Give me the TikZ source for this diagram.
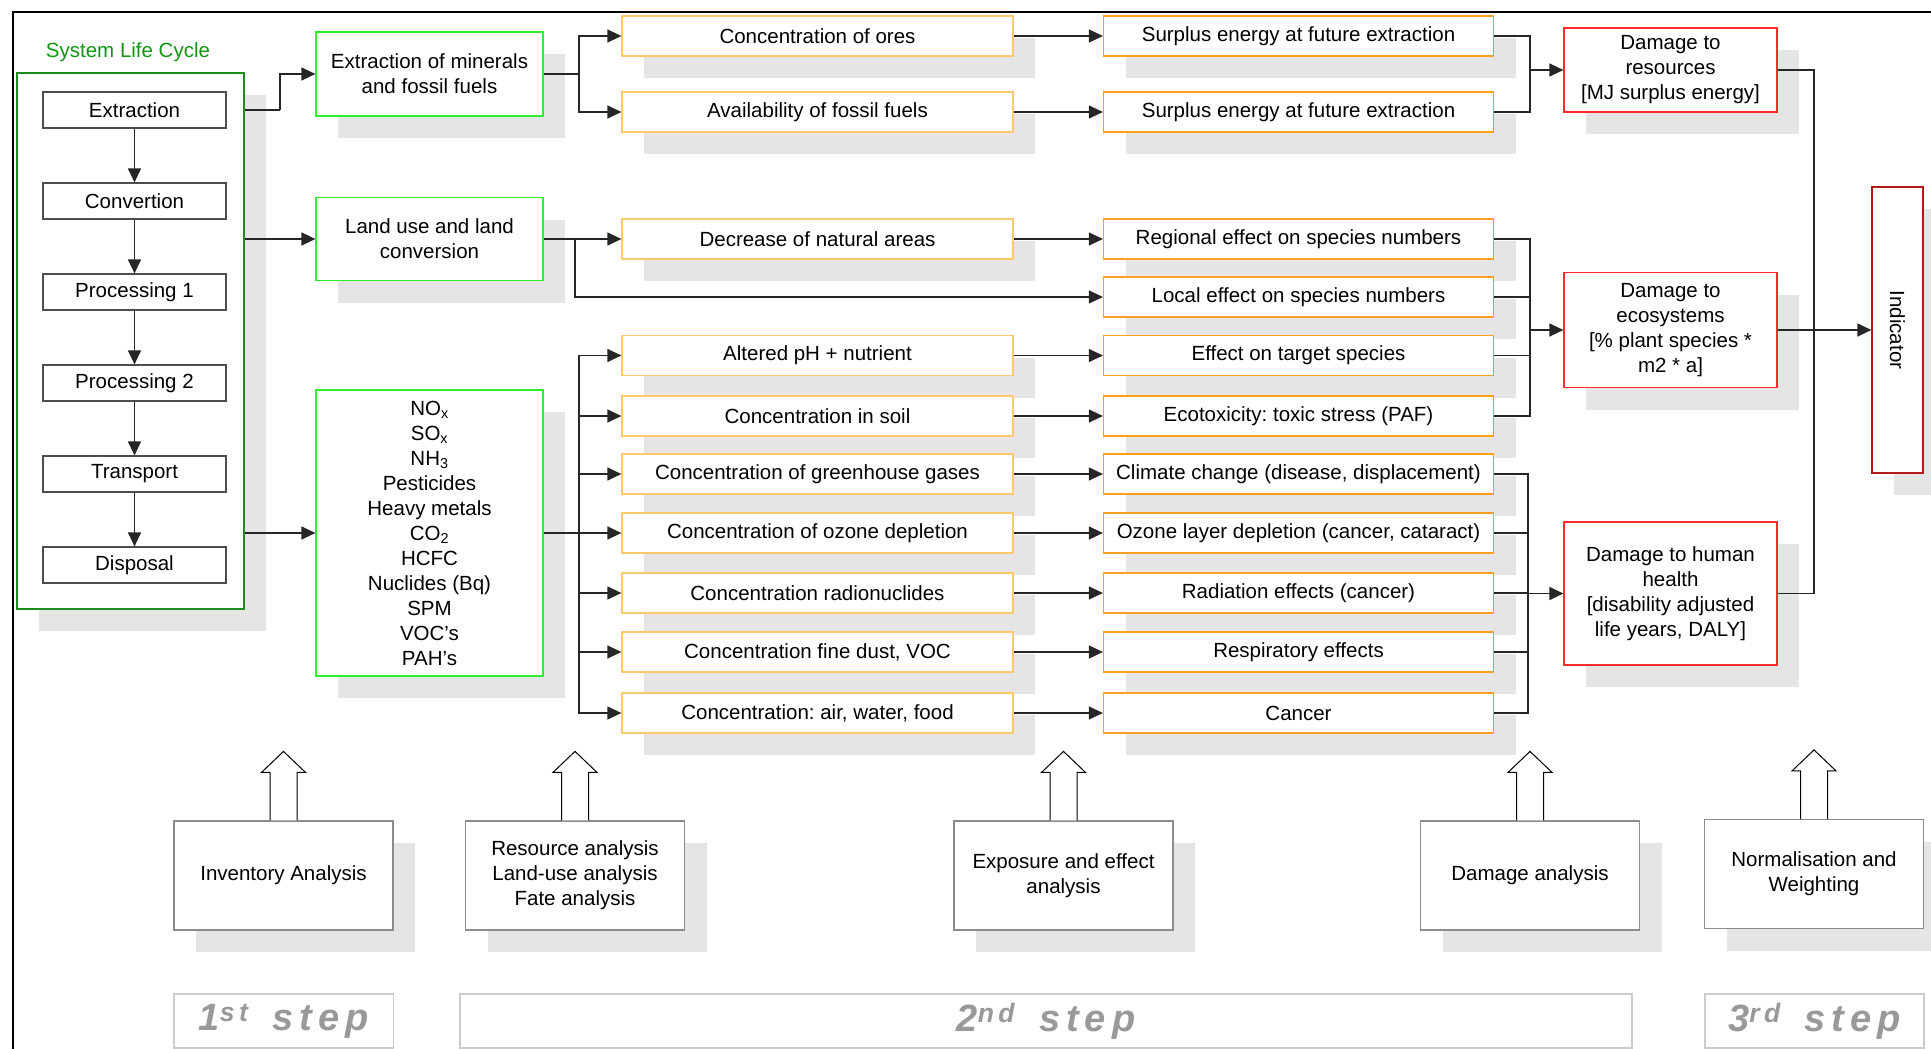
\documentclass[tikz,border=0pt]{standalone}
\usepackage{fontspec}
\setmainfont{Liberation Sans}
\frenchspacing
\usetikzlibrary{arrows.meta,shadows}
\definecolor{lcgreen}{HTML}{1E8C1E}
\definecolor{lctext}{HTML}{129612}
\definecolor{brightgreen}{HTML}{2EF02E}
\definecolor{orangelight}{HTML}{FFC870}
\definecolor{orangedark}{HTML}{FF9E1F}
\definecolor{dmgred}{HTML}{FF2B2B}
\definecolor{indred}{HTML}{B31A1A}
\definecolor{boxgray}{HTML}{8C8C8C}
\definecolor{lcgray}{HTML}{4D4D4D}
\definecolor{shadowgray}{HTML}{E5E5E5}
\definecolor{phasegray}{HTML}{CCCCCC}
\definecolor{phasetext}{HTML}{999999}

\begin{document}
\begin{tikzpicture}[x=1pt, y=-1pt, node distance=481pt,
    font=\fontsize{20.5}{25}\selectfont,
    box/.style={draw, rectangle, inner sep=0pt, line width=1.2pt, align=center, fill=white},
    shadowed/.style={drop shadow={shadow xshift=22pt, shadow yshift=-22pt, fill=shadowgray, opacity=1}},
    stepbox/.style={box, draw=lcgray, minimum width=183pt, minimum height=36pt, node distance=91pt},
    inbox/.style={box, shadowed, draw=brightgreen, minimum width=227pt},
    conc/.style={box, shadowed, draw=orangelight, minimum width=391pt, minimum height=40pt},
    effect/.style={box, shadowed, draw=orangedark, minimum width=390pt, minimum height=40pt},
    damage/.style={box, shadowed, draw=dmgred, minimum width=213pt},
    analysis/.style={box, shadowed, draw=boxgray, minimum width=219pt, minimum height=109pt},
    phase/.style={box, draw=phasegray, minimum height=54pt, text=phasetext,
        font=\fontsize{38}{40}\selectfont\bfseries\itshape},
    wire/.style={draw=black!85, line width=1.2pt},
    conn/.style={wire, -{Triangle[length=14pt,width=13pt]}},
    hollow/.style={draw=black, line width=1pt, fill=white}]
    \useasboundingbox (0,0) rectangle (1931,1049);
    \draw[line width=2.2pt] (13,1049) -- (13,12) -- (1931,12);

    \node (lcframe) [box, shadowed, draw=lcgreen, minimum width=227pt, minimum height=536pt] at (130.5,341) {};
    \node (lctitle) [text=lctext] at (128,52) {System Life Cycle};
    \node (extr) [stepbox] at (134.5,110) {Extraction};
    \node (conv) [stepbox, below of=extr] {Convertion};
    \node (proc1) [stepbox, below of=conv] {Processing 1};
    \node (proc2) [stepbox, below of=proc1] {Processing 2};
    \node (transp) [stepbox, below of=proc2] {Transport};
    \node (disp) [stepbox, below of=transp] {Disposal};

    \node (minerals) [inbox, minimum height=84pt] at (429.5,74) {Extraction of minerals\\and fossil fuels};
    \node (landuse) [inbox, minimum height=83pt] at (429.5,239) {Land use and land\\conversion};
    \node (emis) [inbox, minimum height=286pt] at (429.5,533) {NO\textsubscript{x}\\SO\textsubscript{x}\\NH\textsubscript{3}\\Pesticides\\Heavy metals\\CO\textsubscript{2}\\HCFC\\Nuclides (Bq)\\SPM\\VOC’s\\PAH’s};

    \node (ores) [conc] at (817.5,36) {Concentration of ores};
    \node (surp1) [effect, right of=ores] {Surplus energy at future extraction};
    \node (avail) [conc] at (817.5,112) {Availability of fossil fuels};
    \node (surp2) [effect, right of=avail] {Surplus energy at future extraction};
    \node (natural) [conc] at (817.5,239) {Decrease of natural areas};
    \node (regional) [effect, right of=natural] {Regional effect on species numbers};
    \node (localeff) [effect] at (1298.5,297) {Local effect on species numbers};
    \node (ph) [conc] at (817.5,355.5) {Altered pH + nutrient};
    \node (target) [effect, right of=ph] {Effect on target species};
    \node (soil) [conc] at (817.5,416) {Concentration in soil};
    \node (ecotox) [effect, right of=soil] {Ecotoxicity: toxic stress (PAF)};
    \node (ghg) [conc] at (817.5,474) {Concentration of greenhouse gases};
    \node (climate) [effect, right of=ghg] {Climate change (disease, displacement)};
    \node (ozone) [conc] at (817.5,533) {Concentration of ozone depletion};
    \node (ozlayer) [effect, right of=ozone] {Ozone layer depletion (cancer, cataract)};
    \node (radio) [conc] at (817.5,593) {Concentration radionuclides};
    \node (radiation) [effect, right of=radio] {Radiation effects (cancer)};
    \node (dust) [conc] at (817.5,652) {Concentration fine dust, VOC};
    \node (respir) [effect, right of=dust] {Respiratory effects};
    \node (food) [conc] at (817.5,713) {Concentration: air, water, food};
    \node (cancer) [effect, right of=food] {Cancer};

    \node (resources) [damage, minimum height=84pt] at (1670.5,70) {Damage to\\resources\\{}[MJ surplus energy]};
    \node (ecosys) [damage, minimum height=115pt] at (1670.5,330) {Damage to\\ecosystems\\{}[\% plant species *\\m2 * a]};
    \node (human) [damage, minimum height=143pt] at (1670.5,593.5) {Damage to human\\health\\{}[disability adjusted\\life years, DALY]};
    \node (indicator) [box, shadowed, draw=indred, minimum width=51pt, minimum height=286pt] at (1897.5,330) {\rotatebox{-90}{Indicator}};

    \node (inventory) [analysis] at (283.5,875.5) {Inventory Analysis};
    \node (fate) [analysis] at (575,875.5) {Resource analysis\\Land-use analysis\\Fate analysis};
    \node (exposure) [analysis] at (1063.5,875.5) {Exposure and effect\\analysis};
    \node (damagean) [analysis] at (1530,875.5) {Damage analysis};
    \node (weighting) [analysis] at (1814,874) {Normalisation and\\Weighting};

    \node (phase1) [phase, minimum width=219.5pt] at (283.75,1021) {1\textsuperscript{s\,t}\hspace{24pt}s\kern6pt t\kern6pt e\kern6pt p};
    \node (phase2) [phase, minimum width=1172pt] at (1046,1021) {2\textsuperscript{n\,d}\hspace{24pt}s\kern6pt t\kern6pt e\kern6pt p};
    \node (phase3) [phase, minimum width=219pt] at (1814.5,1021) {3\textsuperscript{r\,d}\hspace{24pt}s\kern6pt t\kern6pt e\kern6pt p};

    \foreach \b in {inventory,fate,exposure,damagean,weighting}
        \draw[hollow] (\b.north) ++(-13.5,0) -- ++(0,-48) -- ++(-8.5,0) -- ++(22,-21) -- ++(22,21) -- ++(-8.5,0) -- ++(0,48);

    \foreach \a/\b in {extr/conv,conv/proc1,proc1/proc2,proc2/transp,transp/disp}
        \draw[conn] (\a) -- (\b);
    \coordinate (lcfork) at (280,110);
    \draw[wire] (lcframe.east |- extr) -- (lcfork);
    \draw[conn] (lcfork) |- (minerals);
    \draw[conn] (lcframe.east |- landuse) -- (landuse);
    \draw[conn] (lcframe.east |- emis) -- (emis);

    \coordinate (minfork) at (579,74);
    \draw[wire] (minerals) -- (minfork);
    \draw[conn] (minfork) |- (ores);
    \draw[conn] (minfork) |- (avail);
    \coordinate (landfork) at (575,239);
    \draw[conn] (landuse) -- (natural);
    \draw[conn] (landfork) |- (localeff);
    \coordinate (emisfork) at (579,533);
    \draw[wire] (emis) -- (emisfork);
    \foreach \n in {ph,soil,ghg,ozone,radio,dust,food}
        \draw[conn] (emisfork) |- (\n);

    \foreach \a/\b in {ores/surp1,avail/surp2,natural/regional,ph/target,soil/ecotox,ghg/climate,ozone/ozlayer,radio/radiation,dust/respir,food/cancer}
        \draw[conn] (\a) -- (\b);

    \coordinate (resfork) at (1530,70);
    \foreach \n in {surp1,surp2}
        \draw[wire] (\n) -| (resfork);
    \draw[conn] (resfork) -- (resources);
    \coordinate (ecofork) at (1530,330);
    \foreach \n in {regional,localeff,target,ecotox}
        \draw[wire] (\n) -| (ecofork);
    \draw[conn] (ecofork) -- (ecosys);
    \coordinate (humfork) at (1528,593.5);
    \foreach \n in {climate,ozlayer,radiation,respir,cancer}
        \draw[wire] (\n) -| (humfork);
    \draw[conn] (humfork) -- (human);

    \coordinate (indfork) at (1814,330);
    \draw[wire] (resources) -| (indfork);
    \draw[wire] (human) -| (indfork);
    \draw[conn] (ecosys) -- (indicator);
\end{tikzpicture}
\end{document}
